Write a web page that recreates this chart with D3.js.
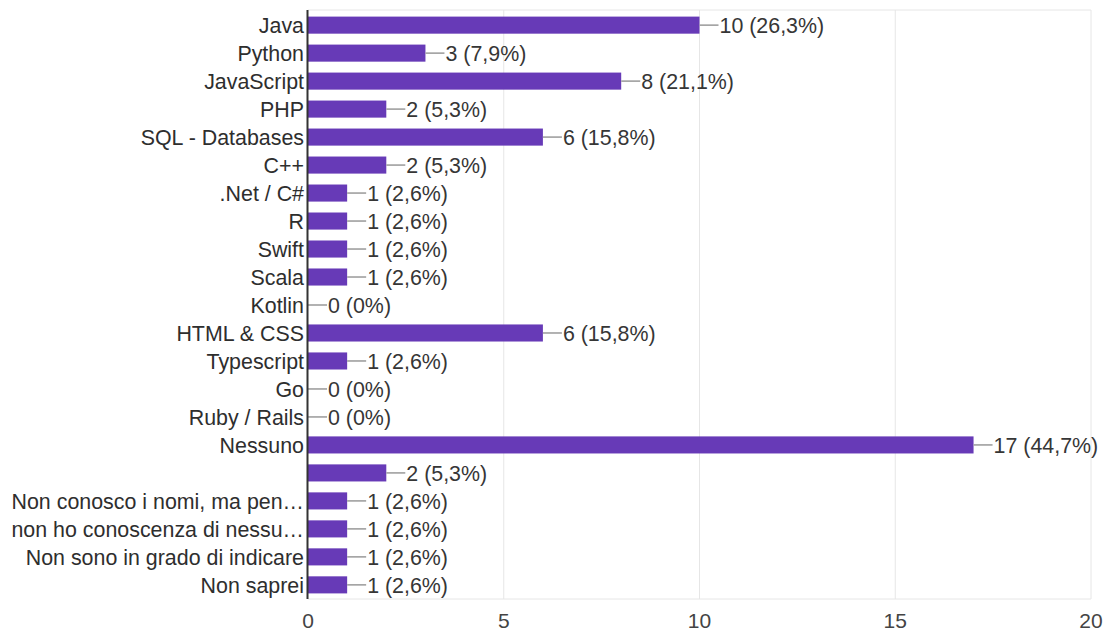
<!DOCTYPE html>
<html lang="it">
<head>
    <meta charset="UTF-8">
    <title>Linguaggi conosciuti</title>
    <script src="https://d3js.org/d3.v7.min.js"></script>
    <style>
        body {
            margin: 0;
            background: #fff;
            font-family: 'Liberation Sans', Arial, sans-serif;
        }
        .cat-label {
            fill: #2e2e2e;
            font-size: 21.4px;
        }
        .val-label {
            fill: #363636;
            font-size: 21.4px;
        }
        .tick-label {
            fill: #444;
            font-size: 21px;
        }
        .grid {
            stroke: #e6e6e6;
            stroke-width: 1px;
        }
        .connector {
            stroke: #999;
            stroke-width: 1.5px;
        }
    </style>
</head>
<body>
    <svg id="chart"></svg>

    <script>
        // answers, in the order they were shown in the form
        const categories = [
            "Java", "Python", "JavaScript", "PHP", "SQL - Databases", "C++",
            ".Net / C#", "R", "Swift", "Scala", "Kotlin", "HTML & CSS",
            "Typescript", "Go", "Ruby / Rails", "Nessuno", "",
            "Non conosco i nomi, ma pen\u2026", "non ho conoscenza di nessu\u2026",
            "Non sono in grado di indicare", "Non saprei"
        ];
        const counts = [10, 3, 8, 2, 6, 2, 1, 1, 1, 1, 0, 6, 1, 0, 0, 17, 2, 1, 1, 1, 1];
        const percents = ["26,3%", "7,9%", "21,1%", "5,3%", "15,8%", "5,3%", "2,6%", "2,6%",
            "2,6%", "2,6%", "0%", "15,8%", "2,6%", "0%", "0%", "44,7%", "5,3%",
            "2,6%", "2,6%", "2,6%", "2,6%"];
        const xTicks = [0, 5, 10, 15, 20];

        const width = 1103, height = 634;
        const plotLeft = 308, plotRight = 1091, plotTop = 11, plotBottom = 599;

        const svg = d3.select("#chart")
            .attr("width", width)
            .attr("height", height);

        const x = d3.scaleLinear().domain([0, 20]).range([plotLeft, plotRight]);
        const y = d3.scaleBand()
            .domain(d3.range(categories.length))
            .range([plotTop, plotBottom])
            .paddingInner(0.39)
            .paddingOuter(0.2);

        // gridlines + frame
        svg.selectAll(".grid-v")
            .data(xTicks.slice(1))
            .enter().append("line")
            .attr("class", "grid")
            .attr("x1", d => x(d)).attr("x2", d => x(d))
            .attr("y1", plotTop - 1).attr("y2", plotBottom);

        svg.append("line").attr("class", "grid")
            .attr("x1", plotLeft).attr("x2", plotRight)
            .attr("y1", plotTop - 1).attr("y2", plotTop - 1);
        svg.append("line").attr("class", "grid")
            .attr("x1", plotLeft).attr("x2", plotRight)
            .attr("y1", plotBottom).attr("y2", plotBottom);

        // x tick labels
        svg.selectAll(".tick-label")
            .data(xTicks)
            .enter().append("text")
            .attr("class", "tick-label")
            .attr("x", d => x(d))
            .attr("y", 628)
            .attr("text-anchor", "middle")
            .text(d => d);

        const rows = svg.selectAll(".row")
            .data(categories.map((c, i) => ({ name: c, n: counts[i], pct: percents[i], i })))
            .enter().append("g")
            .attr("class", "row");

        rows.append("rect")
            .attr("x", x(0))
            .attr("y", d => y(d.i))
            .attr("width", d => x(d.n) - x(0))
            .attr("height", y.bandwidth())
            .attr("fill", "#673ab7");

        rows.append("line")
            .attr("class", "connector")
            .attr("x1", d => x(d.n))
            .attr("x2", d => x(d.n) + 19)
            .attr("y1", d => y(d.i) + y.bandwidth() / 2)
            .attr("y2", d => y(d.i) + y.bandwidth() / 2);

        rows.append("text")
            .attr("class", "val-label")
            .attr("x", d => x(d.n) + 20)
            .attr("y", d => y(d.i) + y.bandwidth() / 2)
            .attr("dy", "0.36em")
            .text(d => `${d.n} (${d.pct})`);

        rows.append("text")
            .attr("class", "cat-label")
            .attr("x", plotLeft - 4)
            .attr("y", d => y(d.i) + y.bandwidth() / 2)
            .attr("dy", "0.36em")
            .attr("text-anchor", "end")
            .text(d => d.name);

        // category axis line
        svg.append("line")
            .attr("x1", plotLeft - 0.5).attr("x2", plotLeft - 0.5)
            .attr("y1", plotTop - 1).attr("y2", plotBottom)
            .attr("stroke", "#333")
            .attr("stroke-width", 2);
    </script>
</body>
</html>
